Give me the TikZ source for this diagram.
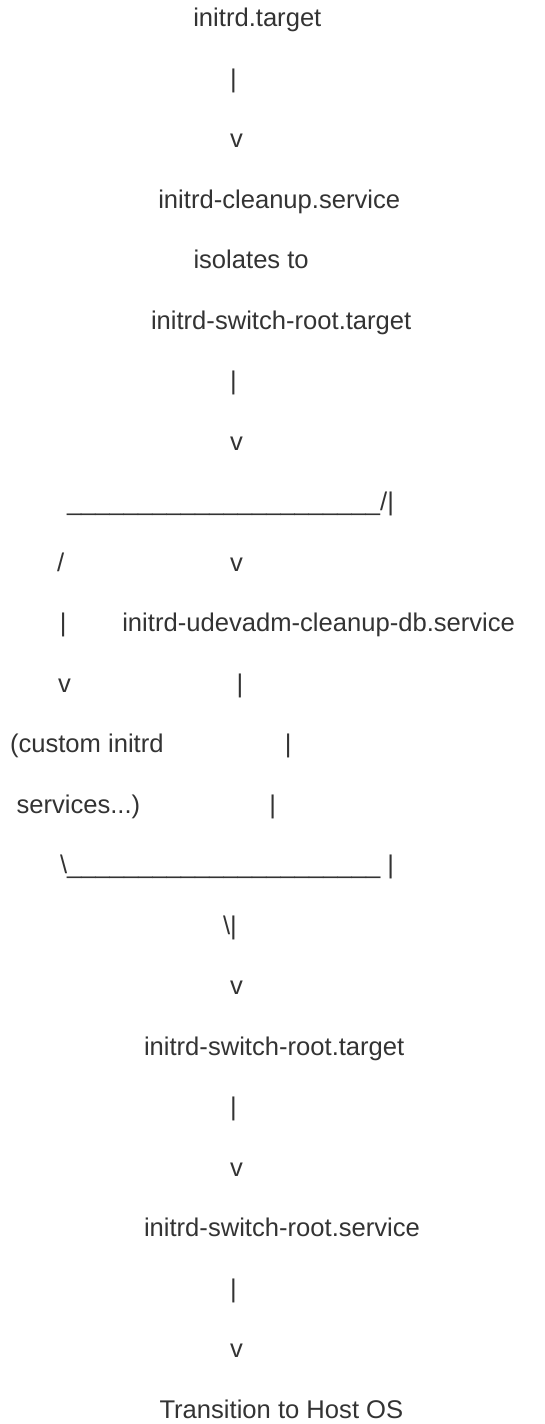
\documentclass[tikz,border=0pt]{standalone}
\usepackage{fontspec}
\setmainfont{Liberation Sans}
\usepackage{tikz}
\definecolor{ink}{HTML}{333333}
\tikzset{
  txt/.style={anchor=base west, inner sep=0pt, outer sep=0pt, text=ink,
    font=\fontsize{25.6}{30}\selectfont},
  sym/.style={txt, anchor=base}
}
\newcommand{\uline}{\_\_\_\_\_\_\_\_\_\_\_\_\_\_\_\_\_\_\_\_\_\_}

\begin{document}
\begin{tikzpicture}
  \useasboundingbox (0pt,0pt) rectangle (544pt,-1424pt);
\begin{scope}[x=1pt, y=-60.48pt, yshift=-27pt]
  \node[txt] (tgt) at (193.3,0) {initrd.target};
  \node[sym] (barA) at (233.5,1) {|};
  \node[sym] (vA) at (236.5,2) {v};
  \node[txt] (cleanup) at (158.3,3) {initrd-cleanup.service};
  \node[txt] (isol) at (193.5,4) {isolates to};
  \node[txt] (swtgt) at (151,5) {initrd-switch-root.target};
  \node[sym] (barB) at (233.5,6) {|};
  \node[sym] (vB) at (236.5,7) {v};
  % fork
  \node[txt] (fork) at (67,8) {\uline/|};
  \node[txt] (slash) at (57,9) {/};
  \node[sym] (vC) at (236.5,9) {v};
  \node[sym] (barC) at (63.3,10) {|};
  \node[txt] (udev) at (122.3,10) {initrd-udevadm-cleanup-db.service};
  \node[sym] (vD) at (64.5,11) {v};
  \node[sym] (barD) at (240,11) {|};
  \node[txt] (custom) at (10,12) {(custom initrd};
  \node[sym] (barE) at (288.3,12) {|};
  \node[txt] (services) at (16.5,13) {services...)};
  \node[sym] (barF) at (272.7,13) {|};
  % join
  \node[txt] (join) at (60,14) {\textbackslash\uline{} |};
  \node[txt] (joinbar) at (223,15) {\textbackslash|};
  \node[sym] (vE) at (236.5,16) {v};
  \node[txt] (swtgt2) at (144,17) {initrd-switch-root.target};
  \node[sym] (barG) at (233.5,18) {|};
  \node[sym] (vF) at (236.5,19) {v};
  \node[txt] (swsrv) at (144,20) {initrd-switch-root.service};
  \node[sym] (barH) at (233.5,21) {|};
  \node[sym] (vG) at (236.5,22) {v};
  \node[txt] (hostos) at (159.5,23) {Transition to Host OS};
\end{scope}
\end{tikzpicture}
\end{document}
